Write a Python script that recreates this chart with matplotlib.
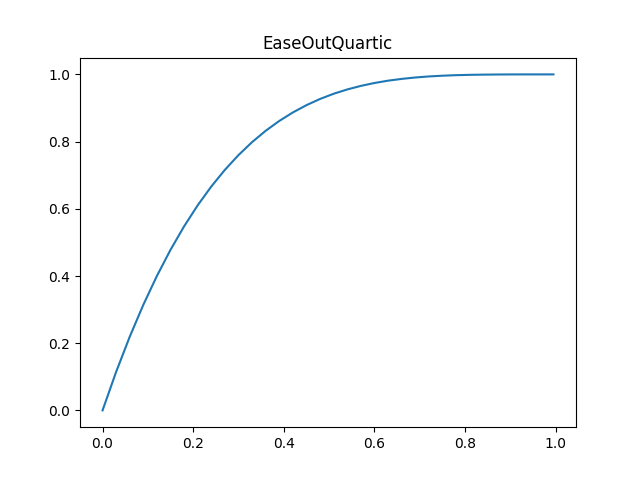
import matplotlib
matplotlib.use("Agg")
import matplotlib.pyplot as plt

title = "EaseOutQuartic"
x_values = [0.00, 0.03, 0.06, 0.09, 0.12, 0.15, 0.18, 0.21, 0.24, 0.27,
            0.30, 0.33, 0.36, 0.39, 0.42, 0.45, 0.48, 0.51, 0.54, 0.57,
            0.60, 0.63, 0.66, 0.69, 0.72, 0.75, 0.78, 0.81, 0.84, 0.87,
            0.90, 0.93, 0.96, 0.995]
y_values = [0.0000, 0.1147, 0.2193, 0.3143, 0.4003, 0.4780, 0.5479, 0.6105,
            0.6664, 0.7160, 0.7599, 0.7985, 0.8322, 0.8615, 0.8868, 0.9085,
            0.9269, 0.9424, 0.9552, 0.9658, 0.9744, 0.9813, 0.9866, 0.9908,
            0.9939, 0.9961, 0.9977, 0.9987, 0.9993, 0.9997, 0.9999, 1.0000,
            1.0000, 1.0000]

fig, ax = plt.subplots(figsize=(6.4, 4.8), dpi=100)
ax.plot(x_values, y_values, color="#1f77b4", linewidth=1.5)
ax.set_title(title)
fig.savefig("out.png", dpi=100)
